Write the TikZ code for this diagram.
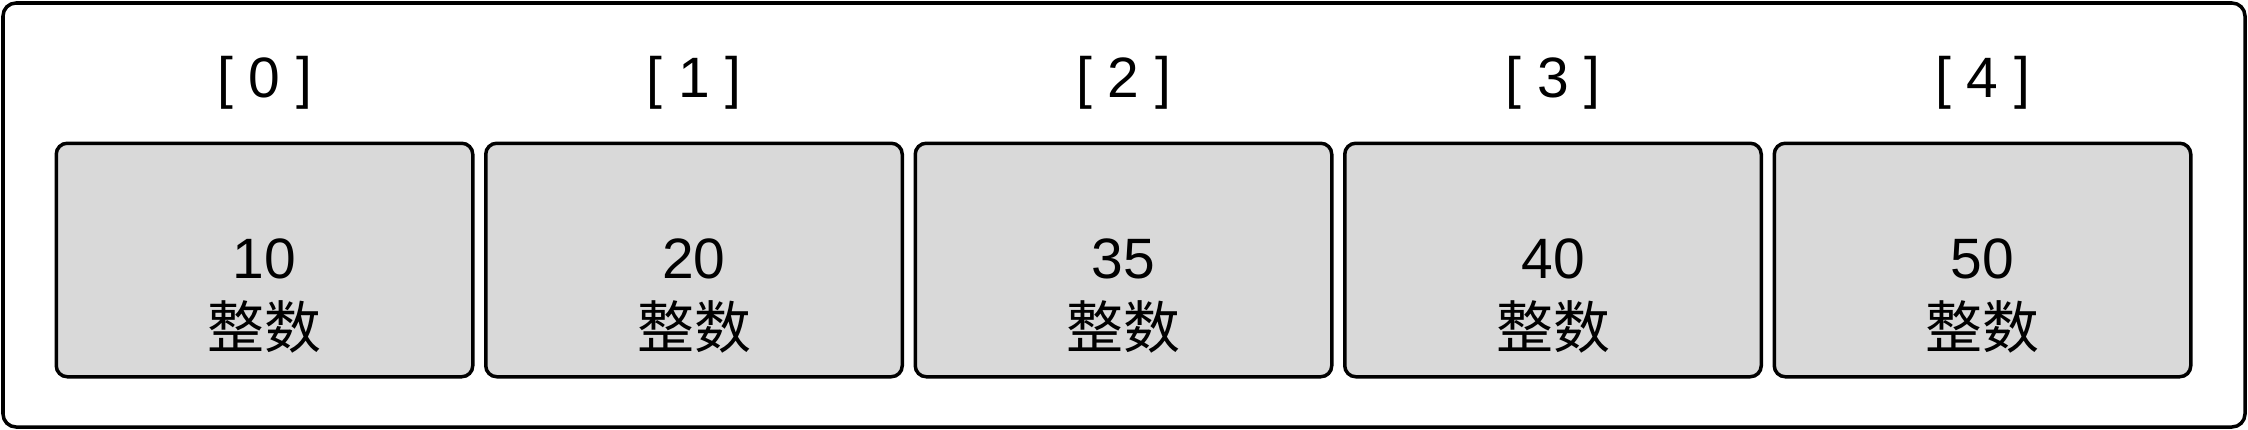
\documentclass[tikz,border=0pt]{standalone}
\usepackage{fontspec}
\setmainfont{Liberation Sans}
\newfontfamily\cjkfont{Noto Sans CJK SC}
\usetikzlibrary{positioning}
\definecolor{cellgray}{RGB}{217,217,217}

\begin{document}
\begin{tikzpicture}[
        cell/.style={draw, line width=0.035cm, fill=cellgray, rounded corners=0.11cm,
            minimum width=4.165cm, minimum height=2.335cm, inner sep=0pt, outer sep=0pt},
        index/.style={font=\fontsize{16.2}{19.5}\selectfont},
        value/.style={font=\fontsize{16.2}{20}\selectfont, align=center}]
        \useasboundingbox (0,0) rectangle (22.48,-4.30);
        %% Frame
        \draw [line width=0.035cm, rounded corners=0.13cm] (0.03,-0.03) rectangle (22.45,-4.27);
        %% Cells
        \node [cell] at (2.645,-2.60) (C0) {};
        \node [cell] at (6.94,-2.60) (C1) {};
        \node [cell] at (11.235,-2.60) (C2) {};
        \node [cell] at (15.53,-2.60) (C3) {};
        \node [cell] at (19.825,-2.60) (C4) {};
        %% Indices
        \node [index] at (2.645,-0.83) (I0) {[ 0 ]};
        \node [index] at (6.94,-0.83) (I1) {[ 1 ]};
        \node [index] at (11.235,-0.83) (I2) {[ 2 ]};
        \node [index] at (15.53,-0.83) (I3) {[ 3 ]};
        \node [index] at (19.825,-0.83) (I4) {[ 4 ]};
        %% Values
        \node [value] at ([yshift=-0.36cm]C0.center) (V0) {10\\{\cjkfont 整数}};
        \node [value] at ([yshift=-0.36cm]C1.center) (V1) {20\\{\cjkfont 整数}};
        \node [value] at ([yshift=-0.36cm]C2.center) (V2) {35\\{\cjkfont 整数}};
        \node [value] at ([yshift=-0.36cm]C3.center) (V3) {40\\{\cjkfont 整数}};
        \node [value] at ([yshift=-0.36cm]C4.center) (V4) {50\\{\cjkfont 整数}};
    \end{tikzpicture}
\end{document}
